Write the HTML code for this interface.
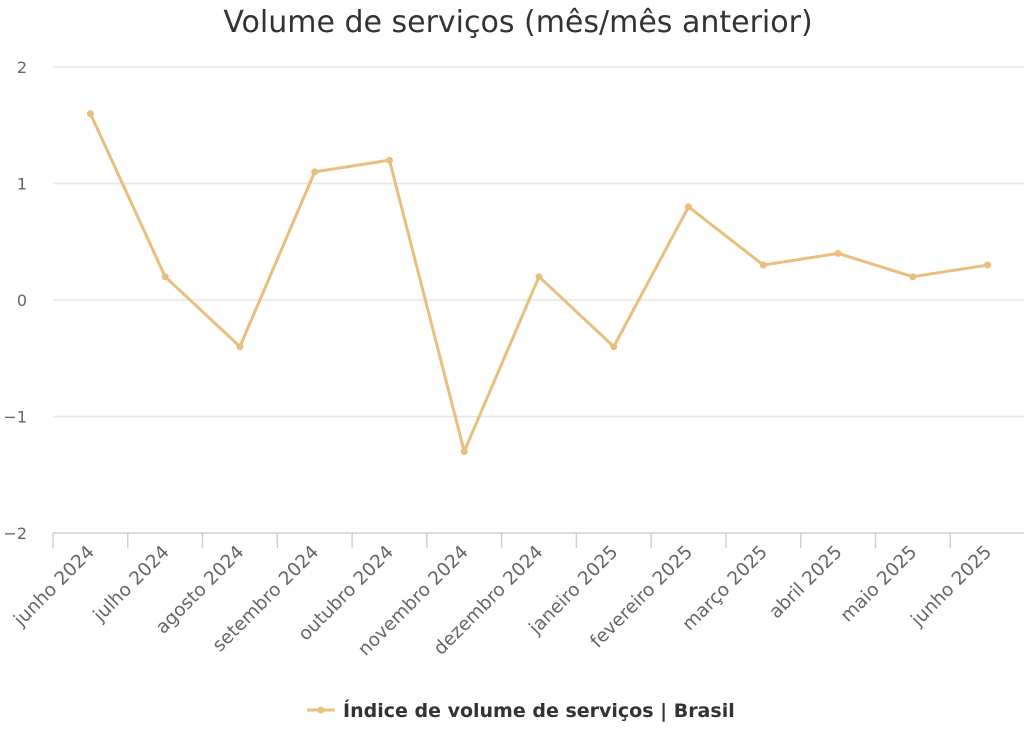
<!DOCTYPE html>
<html><head><meta charset="utf-8"><style>
body{margin:0;background:#fff;}
svg{display:block;font-family:"DejaVu Sans","Liberation Sans",sans-serif;}
</style></head><body>
<svg id="chart" width="1024" height="730" viewBox="0 0 1024 730">
<text x="518" y="32" text-anchor="middle" font-size="30" fill="#333">Volume de serviços (mês/mês anterior)</text>
<g id="grid"></g>
<g id="xaxis"></g>
<g id="yaxis"></g>
<g id="series"></g>
<g>
<line x1="307" y1="710" x2="335" y2="710" stroke="#e8bf7c" stroke-width="3"/>
<circle cx="321" cy="710" r="3.5" fill="#e8bf7c"/>
<text x="343" y="717" font-size="19" font-weight="bold" fill="#333">Índice de volume de serviços | Brasil</text>
</g>
</svg>
<script>
const categories=["junho 2024","julho 2024","agosto 2024","setembro 2024","outubro 2024","novembro 2024","dezembro 2024","janeiro 2025","fevereiro 2025","março 2025","abril 2025","maio 2025","junho 2025"];
const values=[1.6,0.2,-0.4,1.1,1.2,-1.3,0.2,-0.4,0.8,0.3,0.4,0.2,0.3];
const yTicks=[2,1,0,-1,-2];
const NS="http://www.w3.org/2000/svg";
const L=53,R=1025,T=67,B=533,yMin=-2,yMax=2;
const band=(R-L)/categories.length;
const x=i=>L+band*(i+0.5);
const y=v=>B-(v-yMin)/(yMax-yMin)*(B-T);
function mk(t,a,p){const e=document.createElementNS(NS,t);for(const k in a)e.setAttribute(k,a[k]);p.appendChild(e);return e;}
const grid=document.getElementById('grid'),ya=document.getElementById('yaxis'),xa=document.getElementById('xaxis'),s=document.getElementById('series');
yTicks.forEach(v=>{
  const ln=mk('line',{x1:L,x2:1024,y1:y(v),y2:y(v),stroke:v===yMin?'#d0d0d0':'#e6e6e6','stroke-width':1.5},grid);
  
  
  const t=mk('text',{x:27,y:y(v)+6,'text-anchor':'end','font-size':16,fill:'#666'},ya);
  t.textContent=v<0?'\u2212'+Math.abs(v):String(v);
  
  
});
for(let i=0;i<=categories.length;i++){
  const tk=mk('line',{x1:L+band*i,x2:L+band*i,y1:B,y2:B+15,stroke:'#d0d0d0','stroke-width':1.5},xa);
  
  
}
categories.forEach((c,i)=>{
  const t=mk('text',{x:x(i)+5,y:B+20,'text-anchor':'end','font-size':18.5,fill:'#666',transform:`rotate(-45 ${x(i)+5} ${B+20})`},xa);
  t.textContent=c;
  
  
});
const p=mk('polyline',{points:values.map((v,i)=>x(i)+','+y(v)).join(' '),fill:'none',stroke:'#e8bf7c','stroke-width':3,'stroke-linejoin':'round'},s);


values.forEach((v,i)=>{
  const c=mk('circle',{cx:x(i),cy:y(v),r:3.5,fill:'#e8bf7c'},s);
  
  
});
</script>
</body></html>
